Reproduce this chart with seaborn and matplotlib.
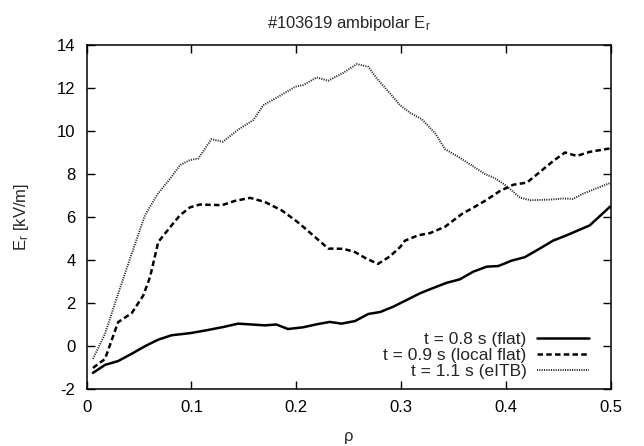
import numpy as np
import pandas as pd
import matplotlib
matplotlib.use('Agg')
import matplotlib.pyplot as plt
import seaborn as sns

# rho and E_r (kV/m)
rho_flat = [0.006, 0.0175, 0.030, 0.043, 0.056, 0.068, 0.081, 0.099, 0.113, 0.130,
            0.1445, 0.1575, 0.170, 0.181, 0.192, 0.2065, 0.2195, 0.232, 0.243, 0.256,
            0.2687, 0.280, 0.2926, 0.3053, 0.318, 0.3276, 0.3435, 0.356, 0.369, 0.3817,
            0.3928, 0.4055, 0.418, 0.4326, 0.445, 0.458, 0.469, 0.480, 0.4994]
er_flat = [-1.25, -0.88, -0.70, -0.36, 0.0, 0.29, 0.50, 0.60, 0.72, 0.88,
           1.04, 1.0, 0.96, 1.0, 0.79, 0.87, 1.01, 1.12, 1.04, 1.16,
           1.49, 1.58, 1.83, 2.14, 2.45, 2.64, 2.94, 3.10, 3.46, 3.69,
           3.72, 3.97, 4.13, 4.54, 4.90, 5.15, 5.38, 5.61, 6.48]

rho_local = [0.006, 0.0175, 0.030, 0.043, 0.054, 0.0604, 0.0683, 0.081, 0.089, 0.0986,
             0.108, 0.129, 0.1415, 0.156, 0.170, 0.186, 0.199, 0.2067, 0.2195, 0.2305,
             0.245, 0.256, 0.267, 0.278, 0.2894, 0.299, 0.3037, 0.3164, 0.3276, 0.342,
             0.358, 0.3705, 0.3817, 0.394, 0.407, 0.420, 0.4326, 0.445, 0.4564, 0.4676,
             0.480, 0.4994]
er_local = [-1.02, -0.6, 1.11, 1.53, 2.35, 3.2, 4.84, 5.61, 6.08, 6.45,
            6.58, 6.55, 6.75, 6.89, 6.70, 6.31, 5.85, 5.54, 5.0, 4.53,
            4.52, 4.37, 4.06, 3.82, 4.17, 4.6, 4.9, 5.15, 5.25, 5.55,
            6.14, 6.48, 6.8, 7.2, 7.5, 7.6, 8.1, 8.6, 9.0, 8.84,
            9.03, 9.19]

rho_eitb = [0.006, 0.0175, 0.030, 0.043, 0.0556, 0.068, 0.081, 0.089, 0.0986, 0.1065,
            0.119, 0.130, 0.1447, 0.159, 0.1685, 0.183, 0.199, 0.2067, 0.2195, 0.2305,
            0.245, 0.2576, 0.2687, 0.2767, 0.2894, 0.299, 0.3085, 0.3197, 0.3324, 0.342,
            0.3546, 0.367, 0.380, 0.3896, 0.399, 0.404, 0.4135, 0.4233, 0.4424, 0.4548,
            0.464, 0.474, 0.4898, 0.4994]
er_eitb = [-0.6, 0.57, 2.43, 4.30, 6.08, 7.09, 7.87, 8.41, 8.65, 8.72,
           9.62, 9.50, 10.07, 10.51, 11.2, 11.6, 12.06, 12.14, 12.49, 12.34,
           12.71, 13.11, 12.99, 12.45, 11.75, 11.2, 10.85, 10.55, 9.9, 9.15,
           8.8, 8.41, 8.0, 7.8, 7.5, 7.3, 6.90, 6.78, 6.81, 6.86,
           6.84, 7.09, 7.40, 7.58]

labels = ['t = 0.8 s (flat)', 't = 0.9 s (local flat)', 't = 1.1 s (eITB)']
x_ticks = [0, 0.1, 0.2, 0.3, 0.4, 0.5]
x_ticklabels = ['0', '0.1', '0.2', '0.3', '0.4', '0.5']
y_ticks = [-2, 0, 2, 4, 6, 8, 10, 12, 14]

sns.set_style('ticks')
plt.rcParams['font.family'] = ['Liberation Sans', 'DejaVu Sans']
plt.rcParams['mathtext.fontset'] = 'custom'
plt.rcParams['mathtext.rm'] = 'Liberation Sans'
plt.rcParams['mathtext.it'] = 'Liberation Sans'
plt.rcParams['axes.unicode_minus'] = False

fig, ax = plt.subplots(figsize=(6.44, 4.46), dpi=100)
fig.subplots_adjust(left=0.1346, right=0.9483, bottom=0.1278, top=0.8991)

sns.lineplot(x=rho_flat, y=er_flat, ax=ax, color='black', lw=1.8,
             sort=False, estimator=None)
sns.lineplot(x=rho_local, y=er_local, ax=ax, color='black', lw=1.8,
             sort=False, estimator=None)
ax.lines[-1].set_dashes((2.2, 1.3))
sns.lineplot(x=rho_eitb, y=er_eitb, ax=ax, color='#222222', lw=1.4,
             sort=False, estimator=None)
ax.lines[-1].set_dashes((0.55, 0.65))

for line, lab in zip(ax.lines, labels):
    line.set_label(lab)

ax.set_xlim(0, 0.5)
ax.set_ylim(-2, 14)
ax.set_xticks(x_ticks)
ax.set_xticklabels(x_ticklabels)
ax.set_yticks(y_ticks)
ax.tick_params(direction='in', length=6, width=1.0, top=True, right=True,
               labelsize=12, colors='black', pad=8)
for sp in ax.spines.values():
    sp.set_linewidth(1.1)
    sp.set_color('black')

ax.set_title(r'#103619 ambipolar $\mathregular{E_r}$', fontsize=12, pad=12)
ax.set_xlabel('ρ', fontsize=12, labelpad=10)
ax.set_ylabel(r'$\mathregular{E_r}$ [kV/m]', fontsize=12, labelpad=19)

ax.legend(loc='lower right', frameon=False, markerfirst=False, fontsize=12.5,
          handlelength=3.0, labelspacing=0.05, handletextpad=0.6,
          borderaxespad=0.15, bbox_to_anchor=(0.977, 0.0))

fig.savefig('out.png', dpi=100)
